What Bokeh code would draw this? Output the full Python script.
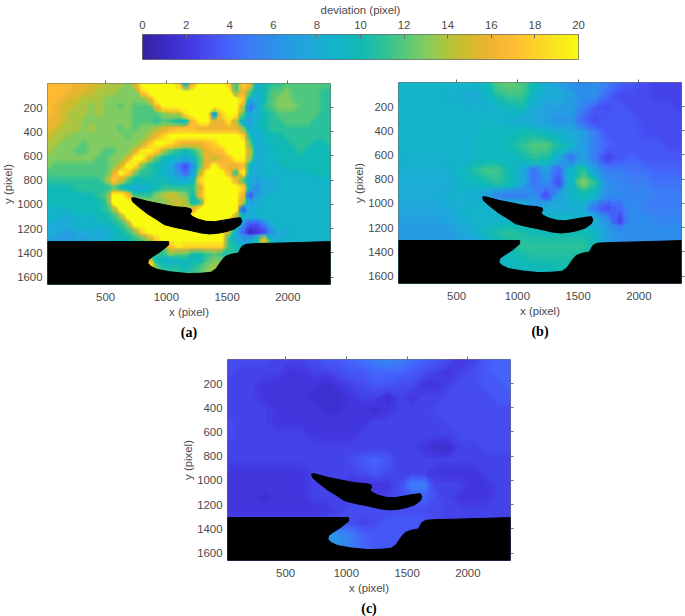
from bokeh.plotting import figure
from bokeh.document import Document
from bokeh.models import Range1d, LinearColorMapper, LinearAxis, FixedTicker, Title
from bokeh.embed import file_html
from bokeh.resources import INLINE
import numpy as np

# colour scale (value 0..20 in steps of 1)
scale_colors = ["#35239f","#3b2cc4","#4236df","#464df2","#4466fb","#3a7ff5","#2c90ea","#24a0e0","#1cacd6","#12b5c8",
                "#10bab4","#2cc199","#52c87c","#84cc60","#b0c43c","#d4ba2c","#efb432","#ffbb32","#fdcf2a","#f9e61e","#f8fa10"]
colorbar_ticks = list(range(0, 21, 2))
x_ticks = [500, 1000, 1500, 2000]
y_ticks = [200, 400, 600, 800, 1000, 1200, 1400, 1600]
x_limits = (22, 2351)
y_limits = (2, 1660)

deviation_a = [
[17,17,17,17,16,16,15,15,14,14,14,13,15,20,20,20,20,20,18,8,16,20,20,20,20,18,11,18,16,8,10,11,11,12,12,12,12,12,12,12],
[17,17,17,16,16,15,15,14,14,14,13,13,13,18,20,20,20,20,20,20,20,20,20,20,20,20,12,16,12,9,10,12,12,13,12,12,12,12,11,11],
[17,17,16,15,15,14,14,14,13,13,13,13,13,13,15,20,20,20,20,20,20,20,20,20,20,20,20,18,8,8,10,12,13,13,12,12,12,12,11,11],
[17,16,15,15,14,14,13,14,13,13,12,13,12,12,12,16,20,20,20,20,20,20,20,20,20,20,20,14,4,8,11,12,13,13,13,12,12,12,11,11],
[17,16,15,14,14,14,13,14,13,13,13,13,12,12,12,12,13,14,14,19,20,20,20,6,18,20,20,12,8,8,10,11,12,12,12,12,12,12,11,11],
[16,16,15,14,14,13,13,13,13,13,13,13,12,12,12,11,12,11,10,9,17,20,20,15,16,19,14,8,7,9,10,11,11,12,12,12,12,11,11,11],
[16,15,14,14,14,13,14,13,13,13,12,13,12,13,13,14,15,16,17,17,17,16,16,16,16,16,16,13,8,9,10,11,11,11,11,11,11,11,11,11],
[15,14,14,13,13,13,13,13,13,13,13,12,13,13,14,16,18,20,20,20,20,20,20,20,20,20,20,18,10,8,9,10,10,11,11,11,11,11,11,11],
[14,14,13,13,13,12,13,13,13,13,13,13,13,14,17,20,20,19,17,16,16,16,17,18,20,20,20,20,12,8,9,10,10,10,11,11,11,10,10,11],
[14,13,13,13,12,12,13,13,12,12,13,13,15,19,20,18,14,12,11,10,11,13,16,17,17,20,20,20,14,8,9,9,10,10,10,11,10,10,10,10],
[13,13,13,13,13,13,13,12,12,13,13,15,20,20,15,12,10,9,9,8,9,12,16,14,16,17,20,20,13,8,9,9,10,10,10,10,10,10,10,10],
[13,12,12,12,12,12,12,12,12,13,15,20,19,13,11,10,9,8,5,3,6,12,16,20,17,16,16,17,9,8,9,9,9,10,10,10,10,10,10,10],
[12,12,12,12,12,12,12,12,12,15,20,18,13,11,11,10,9,8,6,4,7,14,20,20,20,17,11,20,8,8,9,9,9,9,9,9,9,10,10,10],
[11,11,11,11,11,11,11,11,13,18,15,12,10,10,10,10,10,9,8,8,9,18,20,20,20,20,16,12,8,7,8,8,9,9,9,9,9,9,9,9],
[10,10,10,10,11,11,11,11,11,12,10,9,8,8,9,10,11,11,11,11,11,15,20,20,20,20,20,18,8,6,8,8,9,9,9,9,9,9,9,9],
[10,10,10,10,10,10,10,11,12,20,20,17,11,11,11,13,14,15,14,13,10,16,20,20,20,20,20,16,3,7,8,9,9,9,9,9,9,9,9,9],
[10,10,10,10,10,10,10,10,11,20,20,20,20,15,13,13,13,14,15,14,10,11,20,20,20,20,20,14,7,8,9,9,9,9,9,9,9,9,9,9],
[9,9,9,9,10,10,10,10,11,13,20,20,20,20,18,16,15,14,14,14,16,20,20,20,20,20,20,3,8,9,9,9,9,9,9,9,9,9,9,9],
[9,9,8,8,9,9,9,10,10,11,13,20,20,20,20,20,20,20,20,20,20,20,20,20,20,20,14,9,8,8,9,9,9,9,9,9,9,9,9,9],
[8,8,8,8,9,9,9,9,9,10,11,13,20,20,20,20,20,20,20,20,20,20,20,20,20,20,12,6,3,3,5,8,9,9,9,9,9,9,9,9],
[8,8,7,7,8,8,8,8,8,9,10,11,13,18,20,20,20,20,20,20,20,20,20,20,20,14,8,4,1,2,3,6,8,8,9,9,9,9,9,9],
[7,7,7,7,7,7,8,8,8,9,10,10,11,12,14,18,20,20,20,20,20,20,20,20,20,11,8,7,7,11,17,9,8,9,9,9,9,9,9,9],
[9,9,9,9,9,9,9,9,9,9,9,9,9,10,11,11,13,17,19,18,18,18,18,18,18,11,10,9,9,9,14,9,9,9,9,9,9,9,9,9],
[9,9,9,9,9,9,9,9,9,9,9,9,9,10,11,11,11,13,12,12,10,10,11,12,11,11,11,9,9,9,9,9,9,9,9,9,9,9,9,9],
[9,9,9,9,9,9,9,9,9,9,9,9,9,12,18,10,9,8,9,10,10,10,12,13,13,11,9,9,9,9,9,9,9,9,9,9,9,9,9,9],
[9,9,9,9,9,9,9,9,9,9,9,9,9,16,20,13,11,11,11,10,11,12,13,14,14,11,9,9,9,9,9,9,9,9,9,9,9,9,9,9],
[9,9,9,9,9,9,9,9,9,9,9,9,9,12,14,12,11,11,11,11,11,12,13,13,13,11,9,9,9,9,9,9,9,9,9,9,9,9,9,9],
[9,9,9,9,9,9,9,9,9,9,9,9,9,10,10,10,10,10,10,10,10,10,10,10,10,10,9,9,9,9,9,9,9,9,9,9,9,9,9,9],
]

deviation_b = [
[9,9,9,9,9,9,9,9.5,12,12.5,12,10,8,7,6,5.5,6,5,4,3.5,3,2.5,2.5,2.5],
[9,9,9,9,8.5,8.5,7.5,9,10.5,11.5,11.5,9,8,8,7,6,6,4,3,3,3,2.5,2.5,2.5],
[9,9,9,9,9,9,8.5,8.5,9,9.5,10,8,7,7,7,5,3.5,3,3.5,3,3,3,3,2.5],
[9,9,9,9,9,9,9,9,9,8.5,8,7.5,7,6,6.5,4,3,3.5,3.5,3.5,3,3,3,3],
[9,9,9,9,9,9,9,9.5,9.5,9.5,10,10,9.5,8.5,8,7,5,3.5,3.5,3.5,3,3,3,3],
[9,9,9,9,9,9,9,9.5,9.5,10,11,12,12,10.5,9,7,5,4,3.5,3.5,3.5,3.5,3,3],
[9,8.5,8.5,8.5,9,9,9,9.5,9.5,9.5,10,11,10.5,8,4.5,7,5,2.5,3.5,4,3.5,3.5,3.5,3.5],
[8.5,8.5,8.5,8.5,8.5,9,10.5,11.5,11.5,10,8,4.5,7,4,9,11,7,5,5,4.5,4.5,4,4,4],
[8,8,8,8,8,9,9.5,10,11,10,8,4.5,6,3,9,13,11,6,5.5,5,5,4.5,4.5,4.5],
[8,8,8,8,8.5,8.5,8.5,7,5.5,5,5,6,3,7,9,10,9,6,5.5,5.5,5.5,5,5,5],
[7.5,7.5,7.5,7.5,8,8.5,9,9,9,9,9,7,8,8,8,8,4.5,3,4,6,5,5,5,5],
[7,7,7,7,7.5,8,9,9,9,9,9,9,9,9,9,9,8,6,2.5,6,6,5.5,5.5,5.5],
[7,7,7,7,6.5,7.5,8,9.5,10.5,11,10.5,10,10,10,10,10,9,7,6,6,6,6,6,6],
[7,7,7,7,7,7,7,8,9,10,11,11,11,11,11,11,10,7,6,6,6,6,6,6],
[7,7,7,7,7,7,7,8,9,9.5,10,10.5,10.5,10.5,10.5,10,9,7,6,6,6,6,6,6],
[7,7,7,7,7,7,7,8,8.5,9,9.5,9.5,9.5,10,10,10,9,7,6,6,6,6,6,6],
[7,7,7,7,7,7,7,8,8,8.5,9,9.5,9.5,9.5,9.5,9,8,7,6,6,6,6,6,6],
]

deviation_c = [
[3,3,3,3,2.5,2.5,2.5,3,3.5,3.5,4,4.5,5,5.5,5,4.5,4,3.5,3,2,2.5,3.5,4,4],
[3,2.5,2.5,2.5,2.5,2,2,2.5,2.5,3,3.5,3.5,4,4,4,3.5,3,2.5,2,2.5,3,3.5,4,4],
[2.5,2.5,2.5,2,2,2,2,2,1.5,2,2.5,3,3.5,3.5,3,3,2,2,2.5,3,3,3.5,3.5,4],
[2.5,2.5,2.5,2,2,2,2,1.5,1.5,1.5,2,2.5,2.5,1.5,2.5,2,2.5,2.5,3,3,3,3,3.5,3.5],
[2.5,2.5,2.5,2.5,2,2,2,2,1.5,1.5,2,2,1.5,2,2.5,2.5,2.5,3,3,3,3,3,3,3],
[3,2.5,2.5,2.5,2,2,2,2,2,2,2,2,2.5,2.5,2.5,2.5,2.5,2.5,3,3,3,3,3,3],
[3,2.5,2.5,2.5,2.5,2.5,2.5,2,2,2,2,2.5,2.5,2.5,2.5,2.5,2.5,2.5,2.5,3,3,3,3,3],
[2.5,2.5,2.5,2.5,2.5,2.5,2.5,2.5,2.5,2.5,2.5,2.5,2.5,2.5,2.5,2.5,2,1.5,1.5,2.5,2.5,3,3,3],
[2.5,2.5,2.5,2.5,2.5,2.5,2.5,2.5,2.5,2.5,3,3.5,4,3.5,2.5,2.5,2.5,2.5,2.5,2.5,2.5,2.5,2.5,2.5],
[2,2,2,2,2,2,2,2.5,2.5,2.5,2.5,3,3.5,3,2.5,2.5,2.5,2,2,2,2,2.5,2.5,2.5],
[2,2,2,2,2,2,2,2.5,2.5,2.5,2,2,2,2,3,5,5,2.5,2.5,2.5,2,2,2.5,2.5],
[2,2,2,1.5,2,2,2,2.5,2.5,2.5,2.5,2.5,2.5,2.5,3,3.5,4,3,2.5,2,2,2,2.5,2.5],
[2,2,2,2,2,2,2,2,2,2.5,3,3,3,3,3,3,3,3,2.5,2.5,2.5,2.5,2.5,2.5],
[2.5,2.5,2.5,2.5,2.5,2.5,2.5,2.5,3,3,3,2.5,3,3.5,3.5,3.5,3.5,3,2.5,2.5,2.5,2.5,2.5,2.5],
[2.5,2.5,2.5,2.5,2.5,2.5,2.5,2.5,7,6,5,4,3.5,3.5,3.5,3,2.5,2.5,2.5,2.5,2.5,2.5,2.5,2.5],
[2.5,2.5,2.5,2.5,2.5,2.5,2.5,2.5,7,6,5,4,3.5,3.5,3,3,2.5,2.5,2.5,2.5,2.5,2.5,2.5,2.5],
[2.5,2.5,2.5,2.5,2.5,2.5,2.5,2.5,4,4,4,3.5,3,3,3,3,2.5,2.5,2.5,2.5,2.5,2.5,2.5,2.5],
]

# outline of the black no-data regions, in image pixels
wing_x = [714,736,846,956,1066,1162,1203,1209,1195,1217,1258,1327,1396,1478,1560,1610,1621,1610,1560,1492,1423,1354,1286,1176,1066,983,915,846,777,722]
wing_y = [947,944,974,996,1018,1026,1037,1056,1078,1100,1120,1139,1142,1128,1114,1109,1133,1166,1202,1224,1238,1243,1235,1210,1188,1166,1120,1078,1024,977]
ground_x = [22,1019,1019,956,887,852,849,874,929,1038,1176,1286,1368,1409,1445,1483,1533,1593,1621,1656,1725,1972,2351,2351,22]
ground_y = [1306,1306,1334,1386,1430,1457,1485,1512,1537,1556,1570,1567,1559,1531,1476,1430,1411,1400,1347,1328,1323,1317,1306,1660,1660]

TEXT = "#4a4a4a"
FRAME = "#6e6e6e"
FONT_SIZE = "11.4px"
channels = [np.interp(np.linspace(0, 20, 256), np.arange(21), [int(c[i:i+2], 16) for c in scale_colors]) for i in (1, 3, 5)]
palette = ["#%02x%02x%02x" % (round(r), round(g), round(b)) for r, g, b in zip(*channels)]
mapper = LinearColorMapper(palette=palette, low=0, high=20)
levels = list(np.arange(0, 20, 0.2)) + [20.5]
band_colors = [palette[min(255, int((lo + hi) / 2 / 20 * 256))] for lo, hi in zip(levels[:-1], levels[1:])]


def place(left, top):
    return {"position": "absolute", "left": f"{left}px", "top": f"{top}px"}


def style_axis(ax):
    ax.axis_line_color = None
    ax.major_tick_line_color = FRAME
    ax.minor_tick_line_color = None
    ax.major_label_text_color = TEXT
    ax.major_label_text_font = "Liberation Sans"
    ax.major_label_text_font_size = FONT_SIZE
    ax.axis_label_text_color = TEXT
    ax.axis_label_text_font = "Liberation Sans"
    ax.axis_label_text_font_size = FONT_SIZE
    ax.axis_label_text_font_style = "normal"


def panel(grid, caption, frame_left, frame_top, frame_w=283, frame_h=201):
    L, T, R, B = 48, 6, 4, 62
    p = figure(width=L + frame_w + R, height=T + frame_h + B, min_border_left=L, min_border_right=R,
               min_border_top=T, min_border_bottom=B, toolbar_location=None,
               output_backend="svg", x_range=Range1d(*x_limits), y_range=Range1d(y_limits[1], y_limits[0]),
               x_axis_location=None, y_axis_location=None, background_fill_color=None,
               border_fill_color=None, outline_line_color=FRAME, outline_line_width=1,
               styles=place(frame_left - L, frame_top - T))
    p.grid.visible = False
    z = np.array(grid, dtype=float)
    p.image(image=[z], x=x_limits[0], y=y_limits[0],
            dw=x_limits[1] - x_limits[0], dh=y_limits[1] - y_limits[0], color_mapper=mapper)
    # the library's filled contours draw the read grid as a continuous field
    xs = np.linspace(x_limits[0], x_limits[1], z.shape[1])
    ys = np.linspace(y_limits[0], y_limits[1], z.shape[0])
    contour = p.contour(xs, ys, z, levels, fill_color=band_colors)
    contour.fill_renderer.glyph.line_color = None
    p.patch(wing_x, wing_y, fill_color="black", line_color="black")
    p.patch(ground_x, ground_y, fill_color="black", line_color="black")

    below = LinearAxis(ticker=FixedTicker(ticks=x_ticks), axis_label="x (pixel)")
    left_ax = LinearAxis(ticker=FixedTicker(ticks=y_ticks), axis_label="y (pixel)")
    top_ax = LinearAxis(ticker=FixedTicker(ticks=x_ticks))
    right_ax = LinearAxis(ticker=FixedTicker(ticks=y_ticks))
    for ax in (below, left_ax):
        style_axis(ax)
        ax.major_tick_out = 0
        ax.major_tick_in = 0
    below.major_label_standoff = 8
    below.axis_label_standoff = 2
    left_ax.major_label_standoff = 5
    left_ax.axis_label_standoff = 0
    for ax in (top_ax, right_ax):
        style_axis(ax)
        ax.major_label_text_font_size = "0px"
        ax.major_label_text_color = None
        ax.major_label_standoff = 0
        ax.major_tick_out = 3
        ax.major_tick_in = 0
    p.add_layout(below, "below")
    p.add_layout(left_ax, "left")
    p.add_layout(top_ax, "above")
    p.add_layout(right_ax, "right")
    p.add_layout(Title(text=caption, align="center", text_font="Liberation Serif", text_font_size="14px",
                       text_font_style="bold", text_color="black", standoff=4), "below")
    return p


# colour bar
bar = figure(width=456, height=73, min_border_left=10, min_border_right=10, min_border_top=38, min_border_bottom=10,
             toolbar_location=None, output_backend="svg", x_range=Range1d(0, 20), y_range=Range1d(0, 1),
             x_axis_location=None, y_axis_location=None, background_fill_color=None, border_fill_color=None,
             outline_line_color=FRAME, outline_line_width=1, styles=place(132, -4))
bar.grid.visible = False
bar.image(image=[np.linspace(0, 20, 256).reshape(1, -1)], x=0, y=0, dw=20, dh=1, color_mapper=mapper)
bar_axis = LinearAxis(ticker=FixedTicker(ticks=colorbar_ticks), axis_label="deviation (pixel)")
style_axis(bar_axis)
bar_axis.major_tick_out = 0
bar_axis.major_tick_in = 4
bar_axis.major_label_standoff = 6
bar_axis.axis_label_standoff = 2
bar.add_layout(bar_axis, "above")

pa = panel(deviation_a, "(a)", 47, 83)
pb = panel(deviation_b, "(b)", 398, 82)
pc = panel(deviation_c, "(c)", 227, 359)

doc = Document()
for fig in (bar, pa, pb, pc):
    doc.add_root(fig)
open("out.html", "w").write(file_html(doc, INLINE))
